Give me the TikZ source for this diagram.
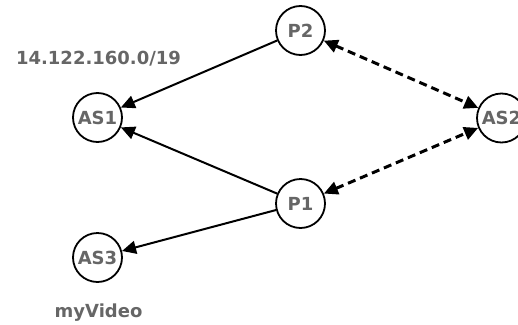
\documentclass[tikz,border=0pt]{standalone}
\usepackage{fontspec}
\setmainfont{DejaVu Sans}
\usetikzlibrary{arrows.meta}
\definecolor{labelgray}{HTML}{666666}

\begin{document}
\begin{tikzpicture}[x=1pt,y=-1pt,font=\fontsize{18}{20}\selectfont\bfseries,
    >={Triangle[length=14pt,width=13pt]}]

        \useasboundingbox (0,0) rectangle (518,324);

        \begin{scope}[every node/.style={circle,draw,line width=1.8pt,minimum size=49pt,inner sep=0pt,text=labelgray}]
          \node (as1) at (97.5,117.5) {AS1};
          \node (as3) at (97.5,257.5) {AS3};
          \node (p2)  at (300.5,30.5) {P2};
          \node (p1)  at (300.5,203.5) {P1};
          \node (as2) at (501.5,118) {AS2};
        \end{scope}

        \begin{scope}[every node/.style={text=labelgray}]
          \node (prefix) at (98.5,59) {14.122.160.0/19};
          \node (video)  at (98.5,313) {myVideo};
        \end{scope}

        \begin{scope}[line width=2pt]
          \draw[->] (p2) -- (as1);
          \draw[->] (p1) -- (as1);
          \draw[->] (p1) -- (as3);
        \end{scope}

        \begin{scope}[line width=3pt,dash pattern=on 8pt off 5pt]
          \draw[<->] (p2) -- (as2);
          \draw[<->] (p1) -- (as2);
        \end{scope}

      \end{tikzpicture}
\end{document}
